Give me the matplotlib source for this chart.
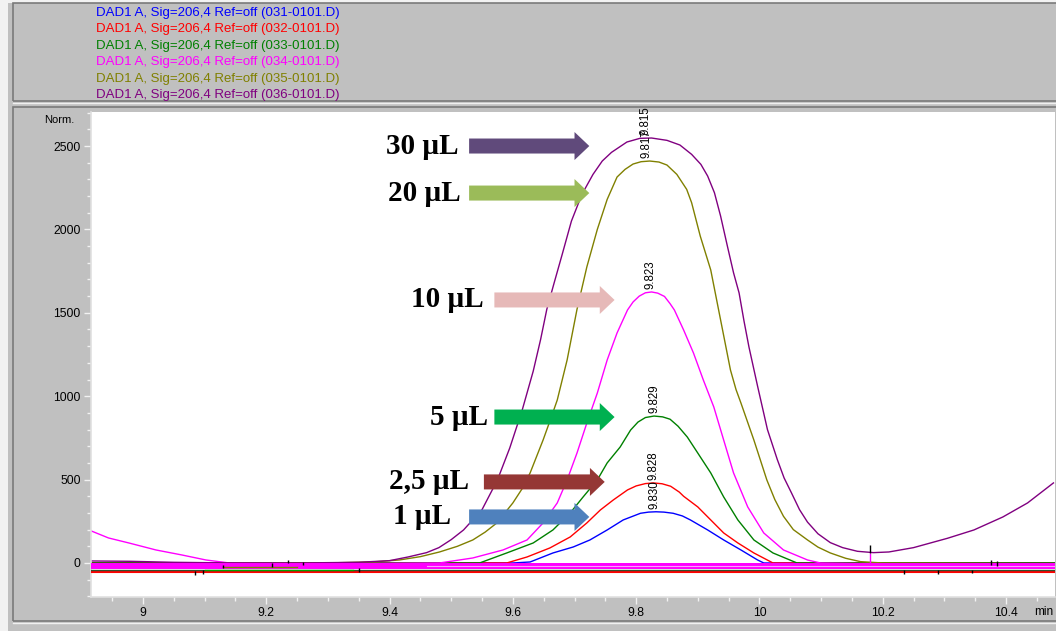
import matplotlib.pyplot as plt
from matplotlib.patches import FancyArrow, Rectangle
from matplotlib.lines import Line2D
from matplotlib.ticker import MultipleLocator

# ---- data (time in min, signal in Norm.) ----
t_30 = [8.916, 8.98, 9.05, 9.15, 9.25, 9.35, 9.40, 9.43, 9.46, 9.48, 9.50, 9.52, 9.55,
        9.575, 9.595, 9.615, 9.633, 9.645, 9.655, 9.667, 9.680, 9.695, 9.712, 9.730,
        9.745, 9.760, 9.785, 9.806, 9.825, 9.850, 9.871, 9.890, 9.905, 9.916, 9.927,
        9.937, 9.948, 9.958, 9.967, 9.975, 9.983, 9.997, 10.013, 10.029, 10.040, 10.052,
        10.065, 10.078, 10.095, 10.115, 10.135, 10.159, 10.185, 10.21, 10.25, 10.305,
        10.348, 10.395, 10.435, 10.477]
s_30 = [12, 10, 4, 0, 0, 4, 14, 36, 62, 92, 140, 198, 320,
        498, 690, 915, 1150, 1340, 1520, 1680, 1850, 2050, 2210, 2330,
        2410, 2462, 2524, 2546, 2548, 2534, 2506, 2450, 2390, 2320, 2220,
        2080, 1900, 1740, 1619, 1450, 1295, 1060, 800, 620, 510, 420,
        320, 245, 175, 122, 92, 70, 62, 66, 92, 148,
        198, 276, 360, 480]

t_20 = [8.916, 9.30, 9.38, 9.416, 9.45, 9.481, 9.51, 9.535, 9.555, 9.574, 9.600, 9.615,
        9.628, 9.649, 9.660, 9.672, 9.688, 9.704, 9.720, 9.737, 9.753, 9.769, 9.782,
        9.795, 9.808, 9.822, 9.837, 9.850, 9.866, 9.882, 9.890, 9.904, 9.921, 9.937,
        9.953, 9.962, 9.970, 9.991, 10.012, 10.025, 10.039, 10.055, 10.078, 10.095,
        10.115, 10.140, 10.164, 10.20, 10.48]
s_20 = [-5, 0, 8, 18, 38, 66, 100, 138, 185, 240, 360, 445,
        540, 737, 850, 977, 1217, 1520, 1775, 2000, 2180, 2314, 2360,
        2392, 2406, 2410, 2404, 2386, 2330, 2240, 2160, 1960, 1757, 1457,
        1157, 1040, 959, 737, 498, 380, 280, 200, 138, 95,
        60, 28, 8, 0, -5]

t_10 = [8.916, 8.944, 8.977, 9.021, 9.063, 9.102, 9.140, 9.30, 9.481, 9.535, 9.584, 9.623,
        9.649, 9.672, 9.688, 9.704, 9.720, 9.737, 9.753, 9.769, 9.786, 9.795, 9.805,
        9.815, 9.825, 9.835, 9.846, 9.855, 9.862, 9.877, 9.893, 9.909, 9.926, 9.942,
        9.958, 9.981, 10.007, 10.039, 10.078, 10.099, 10.18, 10.48]
s_10 = [192, 150, 120, 78, 48, 18, 0, -5, 0, 30, 78, 138,
        240, 360, 498, 659, 839, 1019, 1217, 1379, 1517, 1565, 1600,
        1620, 1625, 1618, 1598, 1555, 1517, 1397, 1259, 1097, 935, 737,
        540, 336, 180, 78, 18, 0, -5, -5]

t_5 = [8.916, 9.546, 9.590, 9.633, 9.665, 9.693, 9.714, 9.737, 9.753, 9.774, 9.791, 9.803,
       9.815, 9.829, 9.843, 9.855, 9.868, 9.883, 9.900, 9.921, 9.942, 9.965, 9.991,
       10.022, 10.061, 10.48]
s_5 = [0, 0, 60, 120, 198, 300, 396, 498, 600, 695, 797, 845,
       872, 881, 876, 862, 820, 755, 659, 540, 396, 258, 138,
       60, 0, 0]

t_2_5 = [8.916, 9.590, 9.623, 9.660, 9.693, 9.720, 9.742, 9.763, 9.786, 9.800, 9.815,
         9.828, 9.842, 9.856, 9.870, 9.877, 9.900, 9.921, 9.942, 9.965, 9.991, 10.022, 10.48]
s_2_5 = [0, 0, 36, 90, 156, 240, 318, 378, 438, 462, 476,
         480, 475, 460, 425, 400, 336, 258, 180, 120, 60, 0, 0]

t_1 = [8.916, 9.600, 9.628, 9.665, 9.698, 9.725, 9.753, 9.779, 9.807, 9.820, 9.832,
       9.845, 9.860, 9.875, 9.888, 9.916, 9.942, 9.970, 9.997, 10.007, 10.48]
s_1 = [0, 0, 6, 60, 96, 138, 198, 258, 298, 305, 307,
       305, 298, 282, 258, 198, 138, 78, 18, 0, 0]

files = ['031-0101.D', '032-0101.D', '033-0101.D', '034-0101.D', '035-0101.D', '036-0101.D']
colors = ['#0000FF', '#FF0000', '#008000', '#FF00FF', '#808000', '#800080']
times = [t_1, t_2_5, t_5, t_10, t_20, t_30]
signals = [s_1, s_2_5, s_5, s_10, s_20, s_30]
peak_rt = [9.830, 9.828, 9.829, 9.823, 9.817, 9.815]
peak_h = [307, 480, 881, 1625, 2410, 2548]
peak_lbl = ['9.830', '9.828', '9.829', '9.823', '9.817', '9.815']

volumes = ['1 µL', '2,5 µL', '5 µL', '10 µL', '20 µL', '30 µL']
arrow_colors = ['#4F81BD', '#953735', '#00B050', '#E6B9B8', '#9BBB59', '#604A7B']

# integration tick marks drawn by the software (time, low, high)
marks_x = [9.085, 9.098, 9.35, 10.235, 10.29, 10.345, 9.13, 9.21, 9.235, 9.26, 10.375, 10.385, 10.18]
marks_lo = [-75, -65, -55, -65, -65, -60, -30, -25, 0, -15, -10, -20, 60]
marks_hi = [-50, -45, -30, -45, -45, -40, -10, 0, 20, 5, 20, 10, 110]

# ---- figure / panels ----
W, H = 1056, 631
fig = plt.figure(figsize=(W / 100, H / 100), dpi=100, facecolor='#C0C0C0')


def fx(px):
    return px / W


def fy(py):
    return 1 - py / H


fig.add_artist(Rectangle((0, 0), fx(8), 1, transform=fig.transFigure,
                         facecolor='#F2F2F2', edgecolor='none'))
fig.add_artist(Rectangle((0, fy(3)), 1, 3 / H, transform=fig.transFigure,
                         facecolor='#F2F2F2', edgecolor='none'))
fig.add_artist(Rectangle((fx(13), fy(101)), 1, 98 / H, transform=fig.transFigure,
                         facecolor='none', edgecolor='#7A7A7A', lw=1.2))
fig.add_artist(Line2D([fx(13), 1], [fy(103), fy(103)], transform=fig.transFigure,
                      color='#F0F0F0', lw=1))
fig.add_artist(Rectangle((fx(13), fy(621)), 1, (621 - 107) / H, transform=fig.transFigure,
                         facecolor='none', edgecolor='#7A7A7A', lw=1.2))
fig.add_artist(Line2D([fx(13), 1], [fy(623), fy(623)], transform=fig.transFigure,
                      color='#F0F0F0', lw=1))

for i, (f, c) in enumerate(zip(files, colors)):
    fig.text(fx(96), fy(13 + 16.4 * i), 'DAD1 A, Sig=206,4 Ref=off (%s)' % f,
             color=c, fontsize=9.5, family='Liberation Sans', va='center')

fig.text(fx(44), fy(120), 'Norm.', fontsize=8, family='Liberation Sans', va='center')
fig.text(fx(1053), fy(612), 'min', fontsize=8.5, family='Liberation Sans',
         va='center', ha='right')

ax = fig.add_axes([fx(91), fy(597), fx(1055) - fx(91), (597 - 112) / H])
ax.set_facecolor('white')
ax.set_xlim(8.9156, 10.4795)
ax.set_ylim(-204, 2704)

# ---- traces ----
for t, s, c in zip(times, signals, colors):
    ax.plot(t, s, color=c, lw=1, zorder=2)

# baseline clutter
x0, x1 = ax.get_xlim()
ax.plot([x0, x1], [-54, -54], color='#FF0000', lw=1.5, zorder=3)
ax.plot([x0, x1], [-42, -42], color='#2F4F2F', lw=1, zorder=3)
ax.plot([9.10, 9.34], [-40, -40], color='#00A000', lw=1, zorder=3)
ax.plot([9.13, 9.25], [-22, -22], color='#808000', lw=1, zorder=5)
ax.plot([x0, x1], [-18, -18], color='#FF00FF', lw=4.3, zorder=4)
ax.plot([9.46, x1], [-18, -18], color='#FFA0FF', lw=0.8, zorder=4)
ax.vlines(marks_x, marks_lo, marks_hi, color='black', lw=1, zorder=6)
ax.vlines([10.18], [-10], [60], color='#FF00FF', lw=1, zorder=5)

# retention-time labels
for rt, h, lbl in zip(peak_rt, peak_h, peak_lbl):
    ax.annotate(lbl, (rt, h), xytext=(0, 2), textcoords='offset points',
                rotation=90, ha='center', va='bottom', fontsize=8.3,
                family='Liberation Sans', zorder=7)

# volume arrows (x start, x end, y, label right edge)
arrow_x0 = [9.529, 9.553, 9.570, 9.570, 9.529, 9.529]
arrow_x1 = [9.724, 9.749, 9.765, 9.765, 9.724, 9.724]
arrow_y = [276, 486, 875, 1577, 2218, 2500]
label_x = [9.500, 9.529, 9.560, 9.553, 9.516, 9.512]
for v, c, a0, a1, ay, lx in zip(volumes, arrow_colors, arrow_x0, arrow_x1, arrow_y, label_x):
    ax.add_patch(FancyArrow(a0, ay, a1 - a0, 0, width=90, head_width=168, head_length=0.024,
                            length_includes_head=True, color=c, lw=0, zorder=8))
    ax.text(lx, ay, v, ha='right', va='center', fontsize=21, fontweight='bold',
            family='Liberation Serif', zorder=8)

# ---- axes styling ----
ax.xaxis.set_minor_locator(MultipleLocator(0.05))
ax.yaxis.set_minor_locator(MultipleLocator(100))
ax.set_xticks([9, 9.2, 9.4, 9.6, 9.8, 10, 10.2, 10.4])
ax.set_xticklabels(['9', '9.2', '9.4', '9.6', '9.8', '10', '10.2', '10.4'])
ax.set_yticks([0, 500, 1000, 1500, 2000, 2500])
ax.tick_params(which='major', length=5, width=1, color='#F2F2F2', direction='out',
               labelsize=8.7, pad=2.5)
ax.tick_params(which='minor', length=3, width=1, color='#F2F2F2', direction='out')
for lbl in ax.get_xticklabels() + ax.get_yticklabels():
    lbl.set_family('Liberation Sans')
for side in ['top', 'right']:
    ax.spines[side].set_visible(False)
for side in ['left', 'bottom']:
    ax.spines[side].set_color('#E0E0E0')
    ax.spines[side].set_linewidth(1.2)

fig.savefig('out.png', dpi=100, facecolor=fig.get_facecolor())
